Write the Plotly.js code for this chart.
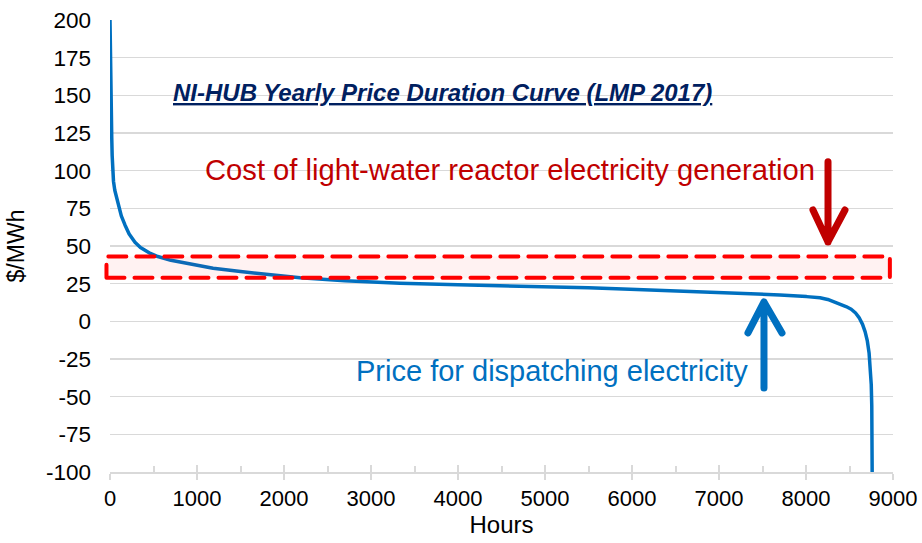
<!DOCTYPE html>
<html>
<head>
<meta charset="utf-8">
<script src="https://cdn.plot.ly/plotly-3.0.1.min.js"></script>
<style>
  html, body { margin: 0; padding: 0; background: #fff; }
  #chart { width: 922px; height: 543px; }
  .shapelayer path { stroke-linecap: round; stroke-linejoin: round; }
  .scatterlayer path.js-line { stroke-linejoin: round; }
</style>
</head>
<body>
<div id="chart"></div>
<script>
// Price duration curve (hours sorted by price, $/MWh)
const hours = [0, 3, 6, 10, 15, 20, 25, 30, 40, 55, 75, 100, 130, 172, 220, 287, 350, 450, 550, 700, 880, 1034, 1185, 1500, 1800, 2184, 2700, 3333, 4000, 4943, 5500, 5977, 6600, 7241, 7700, 8008, 8161, 8250, 8330, 8400, 8460, 8520, 8570, 8610, 8650, 8680, 8705, 8725, 8740, 8750, 8756, 8759, 8761];
const price = [200, 180, 160, 145, 132, 122, 110, 101, 93, 87, 82, 76, 70, 64, 58, 52.5, 49, 45.5, 43, 40.5, 38.5, 36.8, 35.2, 33, 31, 29, 27, 25.3, 24.2, 23.3, 22.3, 21.3, 20, 18.6, 17.5, 16.4, 15.6, 14.5, 12.8, 11.3, 9.8, 8, 5.5, 2.5, -2, -7, -13, -21, -30, -42, -56, -75, -105];

// Axis ticks
const xTicks = [0, 1000, 2000, 3000, 4000, 5000, 6000, 7000, 8000, 9000];
const yTicks = [-100, -75, -50, -25, 0, 25, 50, 75, 100, 125, 150, 175, 200];

// Light-water reactor generation cost band ($/MWh)
const lwrBand = [29, 43];

// Callout arrows: [x, y] points (tail, tip, wing ends)
const redArrow = {tail: [8253, 106], tip: [8253, 52.7], wingL: [8080, 73.9], wingR: [8448, 73.9]};
const blueArrow = {tail: [7517, -44.2], tip: [7517, 12.9], wingL: [7333, -7.7], wingR: [7724, -7.7]};

const FONT = 'Liberation Sans, Arial, sans-serif';

function arrowPath(a) {
  return 'M' + a.tail[0] + ',' + a.tail[1] + ' L' + a.tip[0] + ',' + a.tip[1] +
         ' M' + a.wingL[0] + ',' + a.wingL[1] + ' L' + a.tip[0] + ',' + a.tip[1] +
         ' L' + a.wingR[0] + ',' + a.wingR[1];
}

const trace = {
  x: hours, y: price, type: 'scatter', mode: 'lines',
  line: {color: '#0070c0', width: 3.5},
  hoverinfo: 'skip', showlegend: false, cliponaxis: true
};

const layout = {
  width: 922, height: 543,
  margin: {l: 110, r: 29, t: 20, b: 71, pad: 0},
  paper_bgcolor: '#fff', plot_bgcolor: '#fff',
  font: {family: FONT, color: '#000', size: 22},
  showlegend: false,
  xaxis: {
    range: [0, 9000], tickvals: xTicks, ticktext: xTicks.map(String),
    showgrid: false, zeroline: false,
    showline: true, linecolor: '#d9d9d9', linewidth: 2,
    ticks: 'outside', ticklen: 6, tickwidth: 2, tickcolor: '#d9d9d9',
    tickfont: {family: FONT, size: 22, color: '#000'},
    title: {text: 'Hours', font: {family: FONT, size: 24, color: '#000'}, standoff: 3},
    automargin: false, fixedrange: true
  },
  xaxis2: {
    overlaying: 'x', anchor: 'y', side: 'bottom',
    range: [0, 9000], dtick: 1000, tick0: 0,
    showgrid: false, zeroline: false, showline: false, showticklabels: false,
    ticks: 'inside', ticklen: 7, tickwidth: 2, tickcolor: '#d9d9d9',
    minor: {dtick: 500, tick0: 0, ticks: 'inside', ticklen: 6, tickwidth: 2, tickcolor: '#d9d9d9'},
    automargin: false, fixedrange: true
  },
  yaxis: {
    range: [-100, 200], tickvals: yTicks, ticktext: yTicks.map(String),
    showgrid: true, gridcolor: '#d9d9d9', gridwidth: 1.5,
    zeroline: false, showline: false, ticks: '',
    ticklabelstandoff: 18,
    tickfont: {family: FONT, size: 22.5, color: '#000'},
    title: {text: '$/MWh', font: {family: FONT, size: 23, color: '#000'}, standoff: 14},
    automargin: false, fixedrange: true
  },
  shapes: [
    {type: 'rect', xref: 'paper', yref: 'y', x0: -0.0045, x1: 0.996, y0: lwrBand[0], y1: lwrBand[1],
     fillcolor: 'rgba(255,0,0,0.05)', line: {color: '#ff0000', width: 4, dash: '18px,10px'}, layer: 'above'},
    {type: 'path', xref: 'x', yref: 'y', path: arrowPath(redArrow), line: {color: '#c00000', width: 7}, layer: 'above'},
    {type: 'path', xref: 'x', yref: 'y', path: arrowPath(blueArrow), line: {color: '#0070c0', width: 7}, layer: 'above'}
  ],
  annotations: [
    {xref: 'x', yref: 'y', x: 700, y: 152.2, xanchor: 'left', yanchor: 'middle', showarrow: false,
     text: '<b><i><u>NI-HUB Yearly Price Duration Curve (LMP 2017)</u></i></b>',
     font: {family: FONT, size: 24, color: '#002060'}},
    {xref: 'x', yref: 'y', x: 1070, y: 100.5, xanchor: 'left', yanchor: 'middle', showarrow: false,
     text: 'Cost of light-water reactor electricity generation',
     font: {family: FONT, size: 29.2, color: '#c00000'}},
    {xref: 'x', yref: 'y', x: 2800, y: -33, xanchor: 'left', yanchor: 'middle', showarrow: false,
     text: 'Price for dispatching electricity',
     font: {family: FONT, size: 29, color: '#0070c0'}}
  ]
};

const dummy = {x: [0], y: [null], xaxis: 'x2', yaxis: 'y', type: 'scatter', mode: 'lines', showlegend: false, hoverinfo: 'skip'};

Plotly.newPlot('chart', [trace, dummy], layout, {staticPlot: true, displayModeBar: false});
</script>
</body>
</html>
